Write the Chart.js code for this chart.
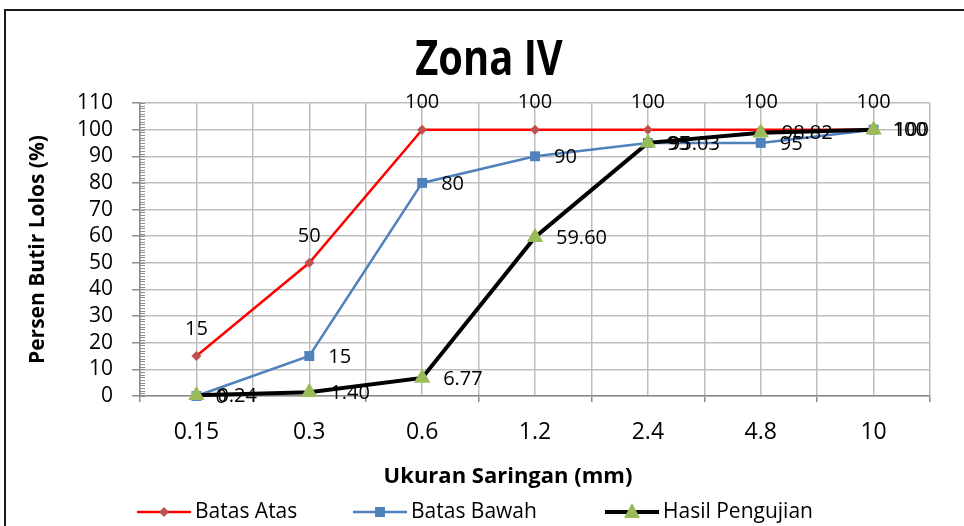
<!DOCTYPE html>
<html>
<head>
<meta charset="utf-8">
<title>Zona IV</title>
<script src="https://cdn.jsdelivr.net/npm/chart.js@4.4.0/dist/chart.umd.min.js"></script>
<style>
  html, body { margin: 0; padding: 0; background: #fff; }
  #wrap { position: relative; width: 964px; height: 526px; overflow: hidden; }
  #frame { position: absolute; left: 4px; top: 9px; width: 1000px; height: 600px; border: 2px solid #1a1a1a; pointer-events: none; }
</style>
</head>
<body>
<div id="wrap">
  <canvas id="chartCanvas" width="964" height="526"></canvas>
  <div id="frame"></div>
</div>
<script>
  const categories = ['0.15', '0.3', '0.6', '1.2', '2.4', '4.8', '10'];
  const batasAtas = [15, 50, 100, 100, 100, 100, 100];
  const batasBawah = [0, 15, 80, 90, 95, 95, 100];
  const hasilPengujian = [0.24, 1.40, 6.77, 59.60, 95.03, 98.82, 100];
  const yMin = 0, yMax = 110, yStep = 10;

  const chartTitle = 'Zona IV';
  const xTitle = 'Ukuran Saringan (mm)';
  const yTitle = 'Persen Butir Lolos (%)';

  const FONT = '"Open Sans", "Noto Sans", sans-serif';

  const toPoints = arr => arr.map((v, i) => ({ x: i, y: v }));
  const fmt = v => Number.isInteger(v) ? String(v) : v.toFixed(2);

  // chart title and category-axis title (Excel centres them a bit left of the plot)
  const titles = {
    id: 'titles',
    afterDraw(chart) {
      const ctx = chart.ctx;
      ctx.save();
      ctx.fillStyle = '#000';
      ctx.textAlign = 'center';
      ctx.textBaseline = 'middle';
      // narrow bold title, Calibri-like proportions
      ctx.translate(489, 61);
      ctx.scale(0.83, 1);
      ctx.font = 'bold 48px ' + FONT;
      ctx.fillText(chartTitle, 0, 0);
      ctx.restore();

      ctx.save();
      ctx.fillStyle = '#000';
      ctx.textAlign = 'center';
      ctx.textBaseline = 'middle';
      ctx.font = 'bold 22px ' + FONT;
      ctx.fillText(xTitle, 508, 477);
      ctx.restore();
    }
  };

  // data labels (above for Batas Atas, right for the others)
  const pointLabels = {
    id: 'pointLabels',
    afterDatasetsDraw(chart) {
      const ctx = chart.ctx;
      ctx.save();
      ctx.font = '20px ' + FONT;
      ctx.fillStyle = '#000';
      ctx.textBaseline = 'middle';
      chart.data.datasets.forEach((ds, i) => {
        const meta = chart.getDatasetMeta(i);
        meta.data.forEach((pt, j) => {
          const txt = fmt(ds.data[j].y);
          if (ds.labelPos === 'above') {
            ctx.textAlign = 'center';
            ctx.fillText(txt, pt.x, pt.y - 27);
          } else {
            ctx.textAlign = 'left';
            ctx.fillText(txt, pt.x + ds.labelGap, pt.y + 1);
          }
        });
      });
      ctx.restore();
    }
  };

  // minor tick marks on the value axis
  const yMinor = {
    id: 'yMinor',
    beforeDatasetsDraw(chart) {
      const y = chart.scales.y;
      const ctx = chart.ctx;
      ctx.save();
      ctx.strokeStyle = '#8c8c8c';
      ctx.lineWidth = 1;
      ctx.beginPath();
      for (let v = yMin; v <= yMax; v += 1) {
        const py = Math.round(y.getPixelForValue(v)) + 0.5;
        ctx.moveTo(y.right, py);
        ctx.lineTo(y.right + 5, py);
      }
      ctx.stroke();
      ctx.restore();
    }
  };

  function drawMarker(ctx, style, x, y, color) {
    ctx.fillStyle = color;
    ctx.beginPath();
    if (style === 'rectRot') {
      ctx.moveTo(x, y - 5); ctx.lineTo(x + 5, y); ctx.lineTo(x, y + 5); ctx.lineTo(x - 5, y);
    } else if (style === 'rect') {
      ctx.rect(x - 5, y - 5, 10, 10);
    } else {
      ctx.moveTo(x, y - 9); ctx.lineTo(x + 8, y + 6); ctx.lineTo(x - 8, y + 6);
    }
    ctx.closePath();
    ctx.fill();
  }

  // legend: line with marker in the middle
  const lineLegend = {
    id: 'lineLegend',
    afterDraw(chart) {
      const ctx = chart.ctx;
      const starts = [137, 353, 605];
      const ly = 512;
      ctx.save();
      ctx.font = '21px ' + FONT;
      ctx.textBaseline = 'middle';
      ctx.textAlign = 'left';
      chart.data.datasets.forEach((ds, i) => {
        const x0 = starts[i];
        ctx.strokeStyle = ds.borderColor;
        ctx.lineWidth = ds.borderWidth;
        ctx.beginPath();
        ctx.moveTo(x0, ly);
        ctx.lineTo(x0 + 54, ly);
        ctx.stroke();
        drawMarker(ctx, ds.pointStyle, x0 + 27, ly, ds.pointBackgroundColor);
        ctx.fillStyle = '#000';
        ctx.fillText(ds.label, x0 + 58, ly);
      });
      ctx.restore();
    }
  };

  const ctx = document.getElementById('chartCanvas').getContext('2d');
  const chart = new Chart(ctx, {
    type: 'line',
    data: {
      datasets: [
        {
          label: 'Batas Atas',
          data: toPoints(batasAtas),
          borderColor: '#FF0000',
          borderWidth: 2.5,
          pointStyle: 'rectRot',
          pointRadius: 5,
          pointBackgroundColor: '#C0504D',
          pointBorderColor: '#C0504D',
          pointBorderWidth: 0,
          tension: 0,
          clip: false,
          order: 3,
          labelPos: 'above'
        },
        {
          label: 'Batas Bawah',
          data: toPoints(batasBawah),
          borderColor: '#4F81BD',
          borderWidth: 2.5,
          pointStyle: 'rect',
          pointRadius: 7,
          pointBackgroundColor: '#4F81BD',
          pointBorderColor: '#4F81BD',
          pointBorderWidth: 0,
          tension: 0,
          clip: false,
          order: 2,
          labelPos: 'right',
          labelGap: 19
        },
        {
          label: 'Hasil Pengujian',
          data: toPoints(hasilPengujian),
          borderColor: '#000000',
          borderWidth: 4,
          pointStyle: 'triangle',
          pointRadius: 9.5,
          pointBackgroundColor: '#9BBB59',
          pointBorderColor: '#9BBB59',
          pointBorderWidth: 0,
          tension: 0,
          clip: false,
          order: 1,
          labelPos: 'right',
          labelGap: 21
        }
      ]
    },
    options: {
      responsive: false,
      animation: false,
      events: [],
      layout: { padding: { left: 0, right: 34, top: 103, bottom: 36 } },
      plugins: {
        legend: { display: false },
        tooltip: { enabled: false },
        title: { display: false }
      },
      scales: {
        x: {
          type: 'linear',
          min: -0.5,
          max: categories.length - 0.5,
          afterBuildTicks: scale => {
            const t = [];
            for (let v = -0.5; v <= categories.length - 0.5; v += 0.5) t.push({ value: v });
            scale.ticks = t;
          },
          afterFit: scale => { scale.height = 94; },
          ticks: {
            autoSkip: false,
            maxRotation: 0,
            padding: 17,
            color: '#000',
            font: { family: FONT, size: 23 },
            callback: v => Number.isInteger(v) ? categories[v] : ''
          },
          grid: {
            color: '#bdbdbd',
            lineWidth: 1.5,
            tickLength: 6,
            tickColor: c => (c.tick && Number.isInteger(c.tick.value)) ? 'rgba(0,0,0,0)' : '#8c8c8c'
          },
          border: { color: '#8c8c8c', width: 1.5 },
          title: { display: false }
        },
        y: {
          min: yMin,
          max: yMax,
          afterBuildTicks: scale => {
            const t = [];
            for (let v = yMin; v <= yMax; v += yStep) t.push({ value: v });
            scale.ticks = t;
          },
          afterFit: scale => { scale.width = 140; },
          ticks: {
            autoSkip: false,
            padding: 19,
            color: '#000',
            font: { family: FONT, size: 21 }
          },
          grid: {
            color: '#bdbdbd',
            lineWidth: 1.5,
            tickLength: 8,
            tickColor: '#8c8c8c'
          },
          border: { color: '#8c8c8c', width: 1.5 },
          title: {
            display: true,
            text: yTitle,
            color: '#000',
            font: { family: FONT, size: 21, weight: 'bold', lineHeight: 1.2 },
            padding: { top: 25, bottom: 0 }
          }
        }
      }
    },
    plugins: [yMinor, pointLabels, titles, lineLegend]
  });
</script>
</body>
</html>
